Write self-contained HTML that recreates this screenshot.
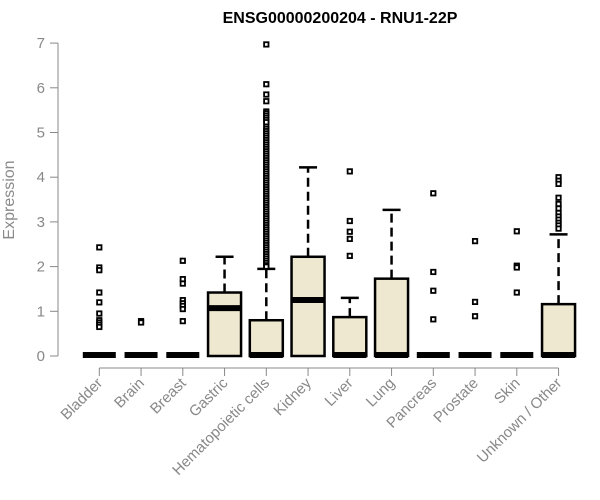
<!DOCTYPE html>
<html><head><meta charset="utf-8"><style>
body{margin:0;background:#fff;}
svg{display:block;font-family:"Liberation Sans",Arial,sans-serif;}
</style></head><body>
<svg id="chart" width="600" height="500" viewBox="0 0 600 500">
<text x="340" y="23" text-anchor="middle" font-size="16" font-weight="bold" fill="#000">ENSG00000200204 - RNU1-22P</text>
<text transform="translate(14,200) rotate(-90)" text-anchor="middle" font-size="16" fill="#8a8a8a">Expression</text>
<g id="axes"></g>
<g id="boxes"></g>
</svg>
<script>
const categories=["Bladder","Brain","Breast","Gastric","Hematopoietic cells","Kidney","Liver","Lung","Pancreas","Prostate","Skin","Unknown / Other"];
const q1=[0,0,0,0,0,0,0,0,0,0,0,0];
const medians=[0,0,0,1.05,0,1.23,0,0,0,0,0,0];
const q3=[0,0,0,1.42,0.8,2.22,0.87,1.73,0,0,0,1.16];
const whiskerHigh=[0,0,0,2.22,1.95,4.22,1.3,3.27,0,0,0,2.72];
const outliers=[
[2.43,1.98,1.92,1.42,1.2,0.95,0.8,0.75,0.7,0.65],
[0.78,0.75],
[2.13,1.72,1.62,1.25,1.18,1.12,1.05,0.78],
[],
[6.97,6.08,5.85,5.70,5.47,5.43,5.38,5.33,5.28,5.23,5.13,5.08,5.03,4.98,4.93,4.88,4.83,4.78,4.73,4.68,4.63,4.58,4.53,4.48,4.43,4.38,4.33,4.28,4.23,4.18,4.13,4.08,4.03,3.98,3.93,3.88,3.83,3.78,3.73,3.68,3.63,3.58,3.53,3.48,3.43,3.38,3.33,3.28,3.23,3.18,3.13,3.08,3.03,2.98,2.93,2.88,2.83,2.78,2.73,2.68,2.63,2.58,2.53,2.48,2.43,2.38,2.33,2.28,2.23,2.18,2.13,2.08,2.03,2.0],
[],
[4.13,3.02,2.78,2.62,2.24],
[],
[3.64,1.88,1.46,0.82],
[2.57,1.21,0.89],
[2.79,2.02,1.98,1.42],
[4.0,3.92,3.85,3.54,3.4,3.3,3.2,3.12,3.05,2.98,2.92,2.85]
];
const yTicks=[0,1,2,3,4,5,6,7];
const NS="http://www.w3.org/2000/svg";
function y(v){return 356-v*44.7;}
function x(i){return 99.3+i*41.75;}
function mk(tag,attrs,parent){const e=document.createElementNS(NS,tag);for(const k in attrs)e.setAttribute(k,attrs[k]);parent.appendChild(e);return e;}
const axes=document.getElementById('axes'), boxes=document.getElementById('boxes');
const grey="#888";
let yl=mk('line',{x1:58,x2:58,y1:y(0),y2:y(7),stroke:grey,'stroke-width':1},axes);


yTicks.forEach(t=>{
  let l=mk('line',{x1:50,x2:58,y1:y(t),y2:y(t),stroke:grey},axes);
  
  
  let tx=mk('text',{x:45,y:y(t)+5,'text-anchor':'end','font-size':15,fill:grey},axes);
  tx.textContent=t;
  
  
});
let xl=mk('line',{x1:x(0),x2:x(categories.length-1),y1:368,y2:368,stroke:grey},axes);


categories.forEach((c,i)=>{
  const cx=x(i);
  let l=mk('line',{x1:cx,x2:cx,y1:368,y2:376,stroke:grey},axes);
  
  
  let tx=mk('text',{transform:`translate(${cx+4},${384}) rotate(-45)`,'text-anchor':'end','font-size':15,fill:grey},axes);
  tx.textContent=c;
  
  
  const g=mk('g',{},boxes);
  
  
  const hw=16.5;
  if(whiskerHigh[i]>q3[i]){
    mk('line',{x1:cx,x2:cx,y1:y(q3[i]),y2:y(whiskerHigh[i]),stroke:'#000','stroke-width':2.5,'stroke-dasharray':'9,5'},g);
    mk('line',{x1:cx-9,x2:cx+9,y1:y(whiskerHigh[i]),y2:y(whiskerHigh[i]),stroke:'#000','stroke-width':2.5},g);
  }
  if(q3[i]>q1[i]){
    mk('rect',{x:cx-hw,y:y(q3[i]),width:hw*2,height:y(q1[i])-y(q3[i]),fill:'#ede8cf',stroke:'#000','stroke-width':2.5},g);
  }
  mk('line',{x1:cx-hw,x2:cx+hw,y1:y(medians[i])-1,y2:y(medians[i])-1,stroke:'#000','stroke-width':6},g);
  outliers[i].forEach(v=>{
    let p=mk('rect',{x:cx-2.2,y:y(v)-2.2,width:4.4,height:4.4,fill:'#fff',stroke:'#000','stroke-width':1.8},g);
    
    
  });
});
</script>
</body></html>
